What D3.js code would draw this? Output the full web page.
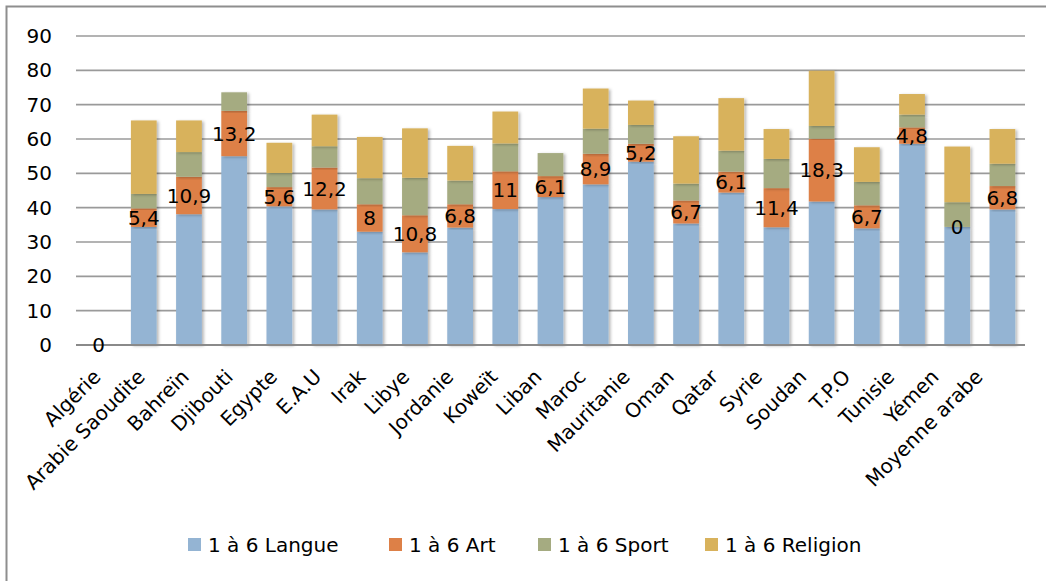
<!DOCTYPE html>
<html>
<head>
<meta charset="utf-8">
<script src="https://cdn.jsdelivr.net/npm/d3@7"></script>
<style>
  body { margin: 0; background: #fff; }
  svg { display: block; font-family: "DejaVu Sans", sans-serif; }
</style>
</head>
<body>
<div id="chart"></div>
<script>
var categories = ["Algérie", "Arabie Saoudite", "Bahreïn", "Djibouti", "Egypte", "E.A.U", "Irak", "Libye",
    "Jordanie", "Koweït", "Liban", "Maroc", "Mauritanie", "Oman", "Qatar", "Syrie", "Soudan", "T.P.O",
    "Tunisie", "Yémen", "Moyenne arabe"];

var langue   = [0, 34.4, 38.1, 55.0, 40.4, 39.5, 33.0, 27.0, 34.2, 39.6, 43.1, 46.8, 53.4, 35.4, 44.4, 34.3, 41.8, 34.0, 58.6, 34.4, 39.5];
var art      = [0, 5.4, 10.9, 13.2, 5.6, 12.2, 8, 10.8, 6.8, 11, 6.1, 8.9, 5.2, 6.7, 6.1, 11.4, 18.3, 6.7, 4.8, 0, 6.8];
var sport    = [0, 4.2, 7.2, 5.4, 4.1, 6.2, 7.6, 10.9, 6.9, 8.1, 6.7, 7.3, 5.5, 4.9, 6.1, 8.5, 3.7, 6.8, 3.7, 7.2, 6.5];
var religion = [0, 21.4, 9.2, 0, 8.8, 9.2, 12.0, 14.4, 10.1, 9.3, 0, 11.7, 7.1, 13.8, 15.3, 8.7, 16.1, 10.1, 6.0, 16.2, 10.1];

var seriesNames = ["1 à 6 Langue", "1 à 6 Art", "1 à 6 Sport", "1 à 6 Religion"];
var seriesColors = ["#94b4d3", "#dd8047", "#a5ab81", "#d8b25c"];
var yTicks = [0, 10, 20, 30, 40, 50, 60, 70, 80, 90];

var W = 1046, H = 581;
var margin = { top: 36, right: 21, bottom: 236, left: 76 },
    width = W - margin.left - margin.right,
    height = H - margin.top - margin.bottom;

var svg = d3.select("#chart").append("svg")
    .attr("width", W)
    .attr("height", H);

var defs = svg.append("defs");
var shadow = defs.append("filter").attr("id", "shadow")
    .attr("x", "-20%").attr("y", "-5%").attr("width", "150%").attr("height", "115%");
shadow.append("feDropShadow")
    .attr("dx", 2).attr("dy", 1).attr("stdDeviation", 1.6)
    .attr("flood-color", "#000").attr("flood-opacity", 0.28);

// outer chart border (runs off the right and bottom of the picture)
svg.append("rect")
    .attr("x", 6.5).attr("y", 6.5)
    .attr("width", W + 20).attr("height", H + 20)
    .attr("fill", "none")
    .attr("stroke", "#8e8e8e")
    .attr("stroke-width", 2);

var g = svg.append("g")
    .attr("transform", "translate(" + margin.left + "," + margin.top + ")");

var x = d3.scaleBand()
    .domain(categories)
    .range([0, width])
    .paddingInner(0.43)
    .paddingOuter(0.215);

// the category labels sit on a slightly tighter spacing than the bars
var xLabel = d3.scalePoint()
    .domain(categories)
    .range([26, 908]);

var y = d3.scaleLinear()
    .domain([0, 90])
    .range([height, 0]);

// gridlines
g.append("g")
    .selectAll("line")
    .data(yTicks)
    .enter().append("line")
    .attr("x1", 0).attr("x2", width)
    .attr("y1", function(d) { return y(d); })
    .attr("y2", function(d) { return y(d); })
    .attr("stroke", "#9a9a9a")
    .attr("stroke-width", 1.6);

// y axis labels
var yAxis = d3.axisLeft(y).tickValues(yTicks).tickSize(0).tickPadding(24);
g.append("g")
    .call(yAxis)
    .call(function(a) { a.select(".domain").remove(); })
    .selectAll("text")
    .attr("font-size", 20)
    .attr("fill", "#000")
    .style("font-family", "DejaVu Sans, sans-serif");

// stacked data
var rows = categories.map(function(c, i) {
    return { cat: c, langue: langue[i], art: art[i], sport: sport[i], religion: religion[i] };
});
var keys = ["langue", "art", "sport", "religion"];
var stacked = d3.stack().keys(keys)(rows);

var layers = g.selectAll(".layer")
    .data(stacked)
    .enter().append("g")
    .attr("class", "layer")
    .attr("fill", function(d, i) { return seriesColors[i]; });

layers.selectAll("rect")
    .data(function(d) { return d; })
    .enter().append("rect")
    .filter(function(d) { return d[1] - d[0] > 0; })
    .attr("x", function(d) { return x(d.data.cat); })
    .attr("width", x.bandwidth())
    .attr("y", function(d) { return y(d[1]); })
    .attr("height", function(d) { return y(d[0]) - y(d[1]); })
    .attr("filter", "url(#shadow)");

// baseline
g.append("line")
    .attr("x1", 0).attr("x2", width)
    .attr("y1", y(0)).attr("y2", y(0))
    .attr("stroke", "#8a8a8a")
    .attr("stroke-width", 2);

// data labels on the Art series
var artLayer = stacked[1];
g.append("g")
    .selectAll("text")
    .data(artLayer)
    .enter().append("text")
    .attr("x", function(d) { return x(d.data.cat) + x.bandwidth() / 2; })
    .attr("y", function(d) { return y((d[0] + d[1]) / 2); })
    .attr("dy", "0.36em")
    .attr("text-anchor", "middle")
    .attr("font-size", 20)
    .attr("fill", "#000")
    .text(function(d) { return String(d.data.art).replace(".", ","); });

// category labels, rotated
g.append("g")
    .selectAll("text")
    .data(categories)
    .enter().append("text")
    .attr("transform", function(d) {
        return "translate(" + xLabel(d) + "," + (height + 33) + ") rotate(-45)";
    })
    .attr("text-anchor", "end")
    .attr("font-size", 20)
    .attr("fill", "#000")
    .text(function(d) { return d; });

// legend
var legendX = [188, 389, 538, 705];
var legend = svg.append("g")
    .selectAll("g")
    .data(seriesNames)
    .enter().append("g")
    .attr("transform", function(d, i) { return "translate(" + legendX[i] + ",538)"; });

legend.append("rect")
    .attr("width", 13).attr("height", 13)
    .attr("fill", function(d, i) { return seriesColors[i]; });

legend.append("text")
    .attr("x", 20).attr("y", 14)
    .attr("font-size", 20)
    .attr("fill", "#000")
    .text(function(d) { return d; });
</script>
</body>
</html>
